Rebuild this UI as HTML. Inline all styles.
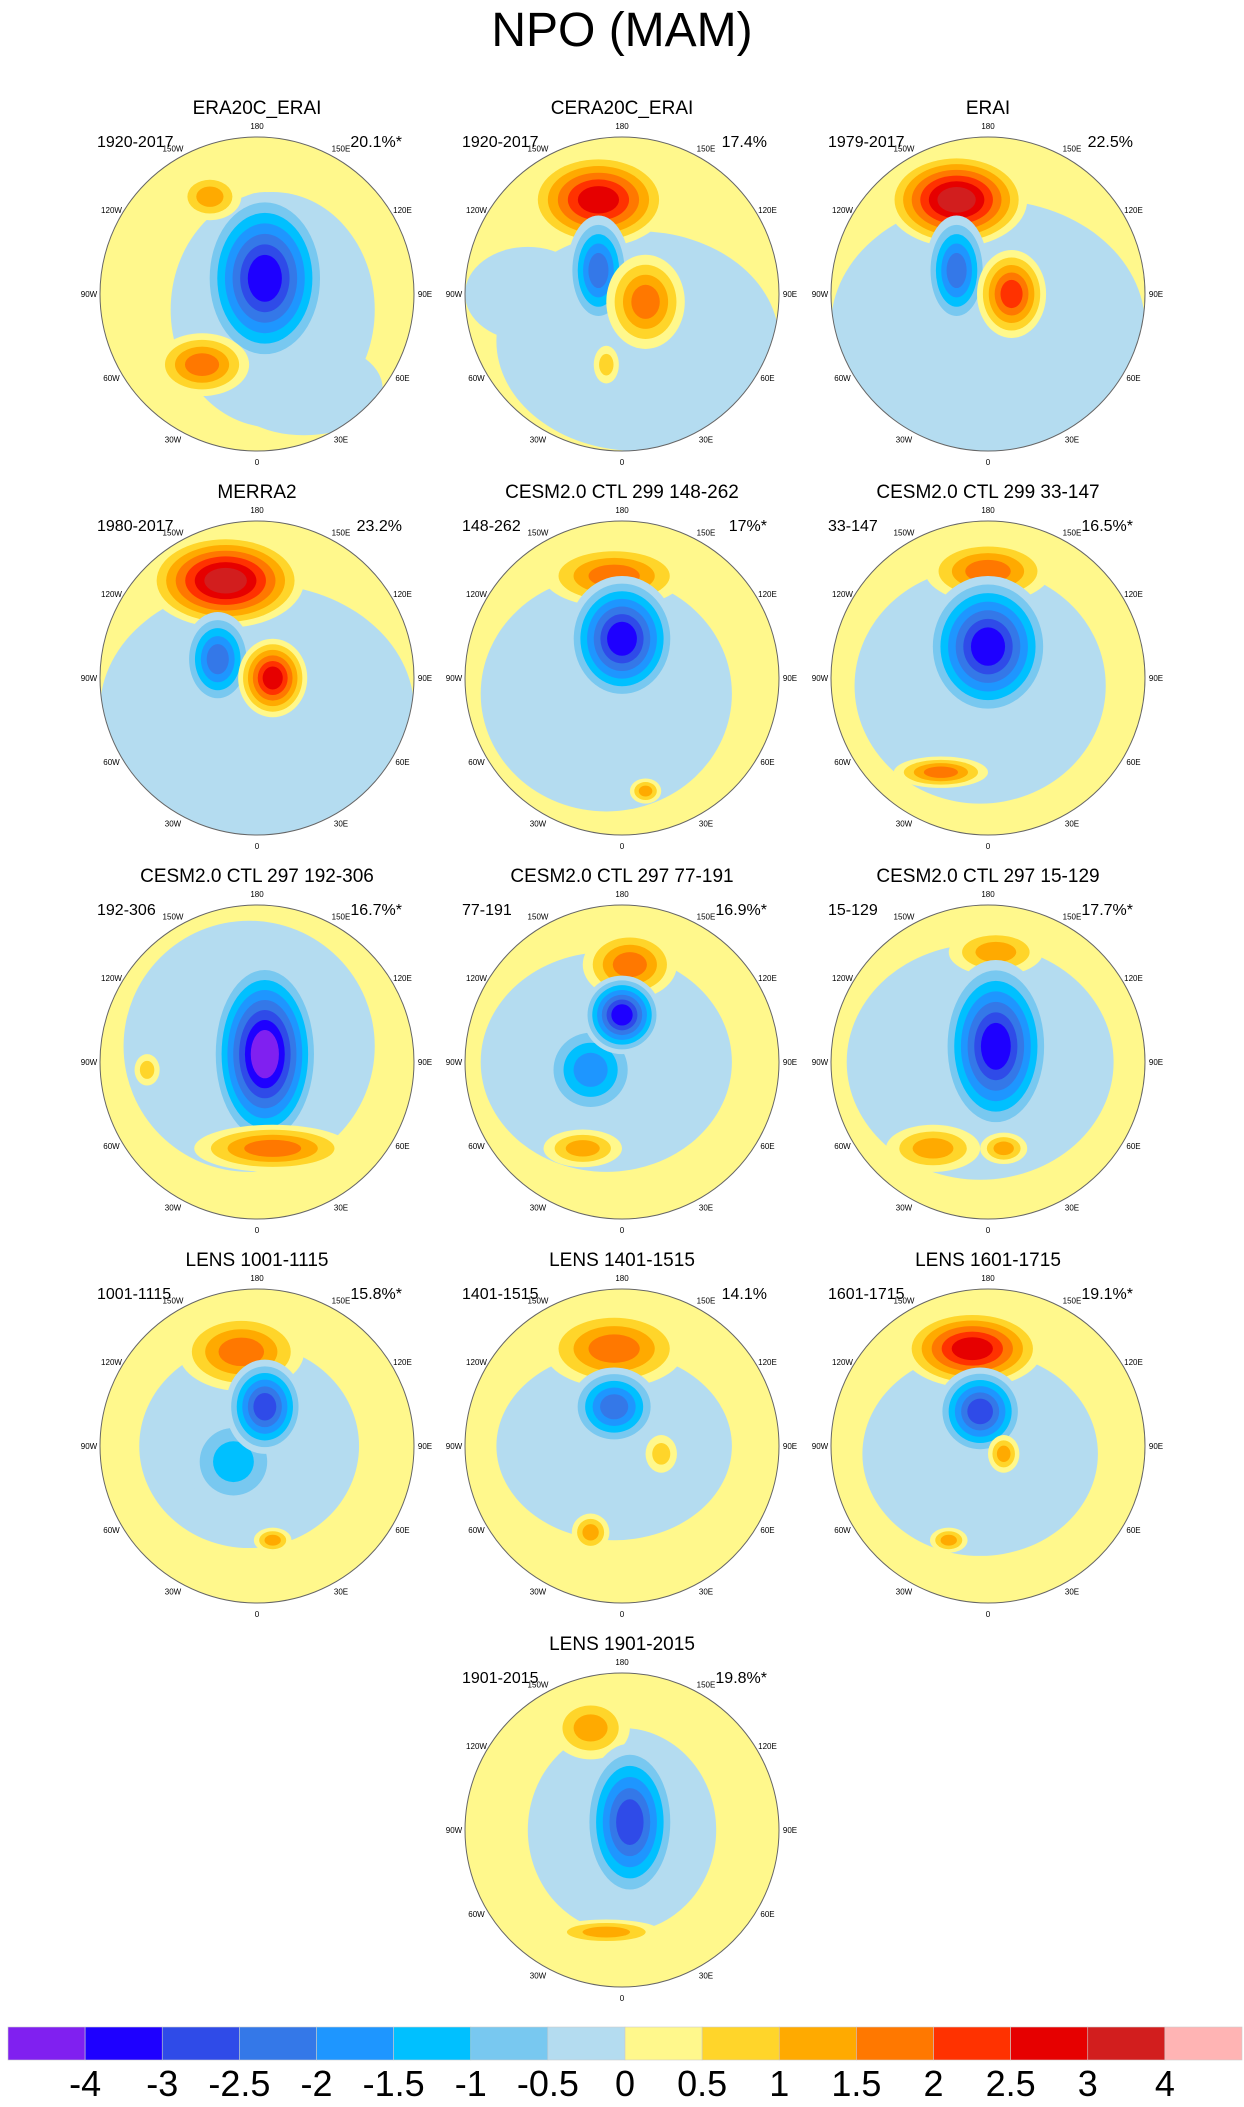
<!DOCTYPE html>
<html><head><meta charset="utf-8"><style>
html,body{margin:0;padding:0;background:#fff;}
svg{display:block;font-family:"Liberation Sans",sans-serif;}
</style></head><body>
<svg id="fig" width="1244" height="2107" viewBox="0 0 1244 2107">
<text x="622" y="46" text-anchor="middle" font-size="48">NPO (MAM)</text>
</svg>
<script>
const levelLabels = ["-4","-3","-2.5","-2","-1.5","-1","-0.5","0","0.5","1","1.5","2","2.5","3","4"];
const levelColors = ["#8020f0","#1e00ff","#2f4be8","#3478e8","#1e96ff","#00c0ff","#78c8f0","#b4dcf0","#fff88c","#ffd52a","#ffaa00","#ff7800","#ff3200","#e60000","#d21e1e","#ffb4b4"];
const panelTitles = ["ERA20C_ERAI","CERA20C_ERAI","ERAI","MERRA2","CESM2.0 CTL 299 148-262","CESM2.0 CTL 299 33-147","CESM2.0 CTL 297 192-306","CESM2.0 CTL 297 77-191","CESM2.0 CTL 297 15-129","LENS 1001-1115","LENS 1401-1515","LENS 1601-1715","LENS 1901-2015"];
const panelPeriods = ["1920-2017","1920-2017","1979-2017","1980-2017","148-262","33-147","192-306","77-191","15-129","1001-1115","1401-1515","1601-1715","1901-2015"];
const panelVariance = ["20.1%*","17.4%","22.5%","23.2%","17%*","16.5%*","16.7%*","16.9%*","17.7%*","15.8%*","14.1%","19.1%*","19.8%*"];
// anomaly centres: [u, v, ru, rv, peak] in units of map radius
const panelFeatures = [
 [[0.1,0.1,0.65,0.75,-0.4],[0.3,0.6,0.5,0.3,-0.4],[0.05,-0.1,0.4,0.55,-3.2],[-0.3,-0.62,0.2,0.15,1.2],[-0.35,0.45,0.3,0.2,1.8]],
 [[0.1,0.3,0.9,0.7,-0.4],[-0.6,0,0.4,0.3,-0.4],[-0.15,-0.6,0.45,0.3,2.8],[-0.15,-0.15,0.2,0.35,-2.3],[0.15,0.05,0.25,0.3,1.8],[-0.1,0.45,0.08,0.12,1.0]],
 [[0,0.2,1,0.8,-0.4],[-0.2,-0.6,0.45,0.3,3.2],[-0.2,-0.15,0.2,0.35,-2.3],[0.15,0.0,0.22,0.28,2.3]],
 [[0,0.2,1,0.8,-0.4],[-0.2,-0.62,0.5,0.3,3.2],[-0.25,-0.12,0.22,0.3,-2.1],[0.1,0,0.22,0.25,3.0]],
 [[-0.1,0.1,0.8,0.75,-0.4],[-0.05,-0.65,0.45,0.2,1.7],[0,-0.25,0.35,0.4,-3.2],[0.15,0.72,0.1,0.08,1.2]],
 [[-0.05,0.05,0.8,0.75,-0.4],[0,-0.68,0.4,0.2,1.6],[0,-0.2,0.4,0.45,-3.1],[-0.3,0.6,0.3,0.1,1.6]],
 [[-0.05,-0.1,0.8,0.8,-0.4],[0.05,-0.05,0.35,0.6,-3.8],[0.1,0.55,0.5,0.15,1.6],[-0.7,0.05,0.08,0.1,1.0]],
 [[-0.1,0,0.8,0.7,-0.4],[0.05,-0.62,0.3,0.22,1.6],[-0.2,0.05,0.3,0.3,-1.6],[0,-0.3,0.25,0.25,-3.1],[-0.25,0.55,0.25,0.12,1.2]],
 [[-0.05,0,0.85,0.75,-0.4],[0.05,-0.7,0.3,0.15,1.2],[0.05,-0.1,0.35,0.55,-3.3],[-0.35,0.55,0.3,0.15,1.2],[0.1,0.55,0.15,0.1,1.1]],
 [[-0.05,0,0.7,0.65,-0.4],[-0.1,-0.6,0.4,0.25,1.7],[-0.15,0.1,0.3,0.3,-1.1],[0.05,-0.25,0.25,0.3,-2.6],[0.1,0.6,0.12,0.08,1.1]],
 [[-0.05,0,0.75,0.6,-0.4],[-0.05,-0.62,0.45,0.25,1.7],[-0.05,-0.25,0.28,0.25,-2.4],[0.25,0.05,0.1,0.12,1.0],[-0.2,0.55,0.12,0.12,1.1]],
 [[-0.05,0.05,0.75,0.65,-0.4],[-0.1,-0.62,0.45,0.25,2.6],[-0.05,-0.22,0.28,0.28,-2.6],[0.1,0.05,0.1,0.12,1.3],[-0.25,0.6,0.12,0.08,1.1]],
 [[0,0,0.6,0.65,-0.4],[-0.2,-0.65,0.25,0.2,1.2],[0.05,-0.05,0.3,0.5,-2.8],[-0.1,0.65,0.35,0.08,1.1]]
];
const lonLabels = ["180","150E","120E","90E","60E","30E","0","30W","60W","90W","120W","150W"];

const NS = "http://www.w3.org/2000/svg";
const svg = document.getElementById("fig");
function mk(tag, attrs, parent){
  const e = document.createElementNS(NS, tag);
  for (const k in attrs) e.setAttribute(k, attrs[k]);
  (parent||svg).appendChild(e);
  return e;
}
const colX = [257, 622, 988];
const rowY = [294, 678, 1062, 1446, 1830];
const R = 157;
function colorIndex(peak, k){ return peak < 0 ? Math.max(0, 8 - k) : Math.min(15, 7 + k); }

panelTitles.forEach((title, i) => {
  const row = Math.floor(i / 3);
  const cx = i === 12 ? colX[1] : colX[i % 3];
  const cy = rowY[row];
  const g = mk("g", {});
  
  
  const clip = mk("clipPath", {id: "clip" + i}, g);
  mk("circle", {cx: cx, cy: cy, r: R}, clip);
  const base = mk("circle", {cx: cx, cy: cy, r: R, fill: levelColors[8]}, g);
  
  
  const field = mk("g", {"clip-path": "url(#clip" + i + ")"}, g);
  
  
  panelFeatures[i].forEach(f => {
    const [u, v, ru, rv, peak] = f;
    const n = Math.ceil(Math.abs(peak) / 0.5);
    for (let k = 1; k <= n; k++) {
      const s = 1 - (k - 1) / n * 0.85;
      const e = mk("ellipse", {cx: cx + u * R, cy: cy + v * R, rx: ru * R * s, ry: rv * R * s, fill: levelColors[colorIndex(peak, k)]}, field);
      
      
    }
  });
  const outline = mk("circle", {cx: cx, cy: cy, r: R, fill: "none", stroke: "#666", "stroke-width": 1}, g);
  
  
  lonLabels.forEach((lab, j) => {
    const a = j * Math.PI / 6;
    const rr = R + 11;
    const t = mk("text", {x: cx + Math.sin(a) * rr, y: cy - Math.cos(a) * rr + 3, "font-size": 8, "text-anchor": "middle"}, g);
    t.textContent = lab;
    
    
  });
  const tt = mk("text", {x: cx, y: cy - 180, "font-size": 19, "text-anchor": "middle"}, g);
  tt.textContent = title;
  
  
  const pt = mk("text", {x: cx - R - 3, y: cy - 147, "font-size": 16}, g);
  pt.textContent = panelPeriods[i];
  
  
  const vt = mk("text", {x: cx + R - 12, y: cy - 147, "font-size": 16, "text-anchor": "end"}, g);
  vt.textContent = panelVariance[i];
  
  
});

// colorbar
const cbX0 = 8, cbX1 = 1242, cbY = 2027, cbH = 33;
const bw = (cbX1 - cbX0) / levelColors.length;
const cb = mk("g", {});


levelColors.forEach((c, k) => {
  const r = mk("rect", {x: cbX0 + k * bw, y: cbY, width: bw, height: cbH, fill: c, stroke: "#ccc", "stroke-width": 0.6}, cb);
  
  
});
levelLabels.forEach((lab, k) => {
  const t = mk("text", {x: cbX0 + (k + 1) * bw, y: 2096, "font-size": 36, "text-anchor": "middle"}, cb);
  t.textContent = lab;
  
  
});
</script>
</body></html>
